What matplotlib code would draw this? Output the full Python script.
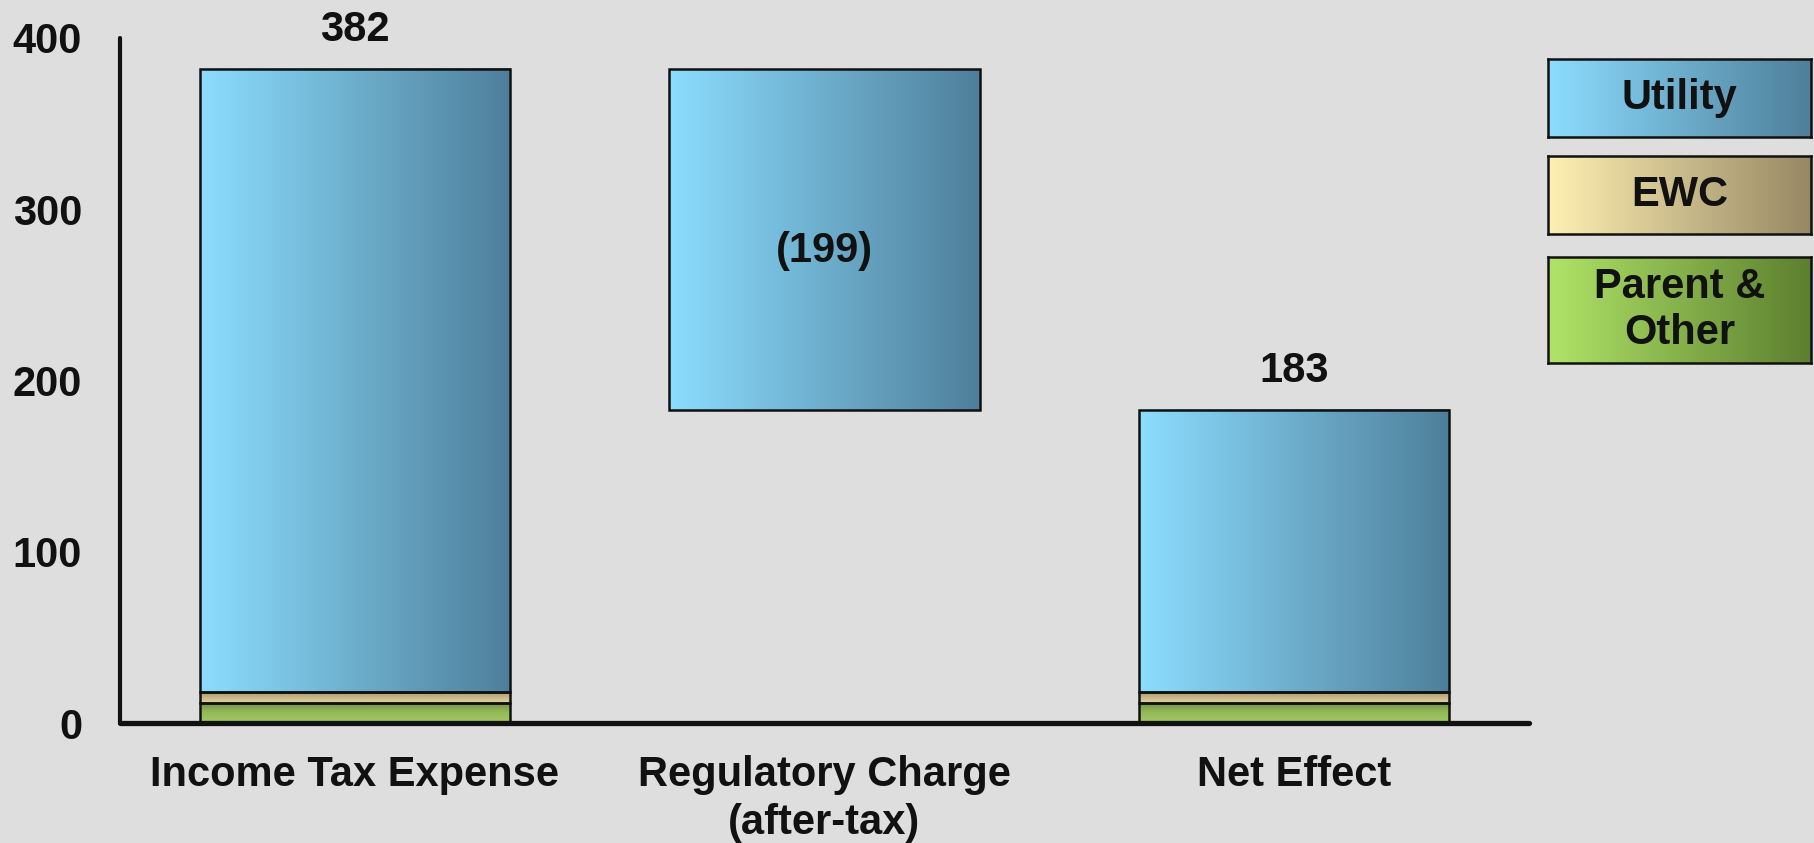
import numpy as np
import matplotlib.pyplot as plt
from matplotlib.colors import LinearSegmentedColormap

plt.rcParams['font.family'] = ['Liberation Sans', 'DejaVu Sans']
plt.rcParams['font.weight'] = 'bold'

categories = ['Income Tax Expense', 'Regulatory Charge\n(after-tax)', 'Net Effect']
parent_other = [12, 0, 12]
ewc = [6, 0, 6]
utility = [364, 199, 165]
bar_bottom = [0, 183, 0]
top_labels = ['382', None, '183']
inside_labels = [None, '(199)', None]

series_names = ['Utility', 'EWC', 'Parent &\nOther']
# horizontal gradients (legend and tall segments)
grad_colors = {
    'Utility': ('#8cddff', '#4e7f9a'),
    'EWC': ('#fff0b2', '#978865'),
    'Parent &\nOther': ('#b0e468', '#5c7f2f'),
}
# thin segments inside the bars are shaded top to bottom
thin_colors = {
    'EWC': ('#e2d3a3', '#c9b887', '#a99a6c'),
    'Parent &\nOther': ('#a2c964', '#95bb5a', '#6f8f42'),
}

bg = '#dedede'
fs = 30
hgrad = np.linspace(0, 1, 256).reshape(1, -1)
vgrad = np.linspace(1, 0, 64).reshape(-1, 1)


def cmap_for(name):
    c0, c1 = grad_colors[name]
    return LinearSegmentedColormap.from_list(name, [c0, c1])


fig = plt.figure(figsize=(18.14, 8.43), dpi=100, facecolor=bg)
ax = fig.add_axes([0.066, 0.142, 0.777, 0.813])
ax.set_facecolor(bg)

x = np.arange(len(categories))
width = 0.66

stack = [('Parent &\nOther', parent_other), ('EWC', ewc), ('Utility', utility)]
for i in range(len(categories)):
    base = bar_bottom[i]
    for name, vals in stack:
        h = vals[i]
        if h <= 0:
            continue
        x0, x1 = x[i] - width / 2, x[i] + width / 2
        if name in thin_colors:
            cm = LinearSegmentedColormap.from_list(name + 'v', thin_colors[name])
            ax.imshow(vgrad, cmap=cm, aspect='auto', vmin=0, vmax=1,
                      extent=[x0, x1, base, base + h], zorder=2, interpolation='bicubic')
        else:
            ax.imshow(hgrad, cmap=cmap_for(name), aspect='auto',
                      extent=[x0, x1, base, base + h], zorder=2, interpolation='bicubic')
        ax.bar(x[i], h, width, bottom=base, facecolor='none',
               edgecolor='#111111', linewidth=1.8, zorder=3)
        base += h
    if top_labels[i]:
        ax.text(x[i], base + 11, top_labels[i], ha='center', va='bottom',
                fontsize=fs, fontweight='bold', color='#111111')
    if inside_labels[i]:
        ax.text(x[i], bar_bottom[i] + utility[i] * 0.465, inside_labels[i],
                ha='center', va='center', fontsize=fs, fontweight='bold', color='#111111')

ax.set_xlim(-0.5, 2.5)
ax.set_ylim(0, 400)
ax.set_yticks([0, 100, 200, 300, 400])
ax.set_xticks(x)
ax.set_xticklabels(categories, fontsize=fs, fontweight='bold', linespacing=1.25)
ax.tick_params(axis='y', length=0, pad=27, labelsize=fs, labelcolor='#111111')
ax.tick_params(axis='x', length=0, pad=23, labelcolor='#111111')
for lbl in ax.get_yticklabels():
    lbl.set_fontweight('bold')

for s in ['top', 'right']:
    ax.spines[s].set_visible(False)
ax.spines['left'].set_linewidth(3)
ax.spines['bottom'].set_linewidth(3.8)
ax.spines['left'].set_color('#111111')
ax.spines['bottom'].set_color('#111111')
ax.spines['left'].set_capstyle('round')
ax.spines['bottom'].set_capstyle('round')
ax.spines['left'].set_bounds(0, 400)

# legend boxes
W, H = 1814, 843
legend_boxes = [(1548, 59, 1811, 137), (1548, 156, 1811, 234), (1548, 257, 1811, 363)]
for name, (l, t, r, b) in zip(series_names, legend_boxes):
    lax = fig.add_axes([l / W, 1 - b / H, (r - l) / W, (b - t) / H])
    lax.imshow(hgrad, cmap=cmap_for(name), aspect='auto', extent=[0, 1, 0, 1])
    lax.set_xticks([])
    lax.set_yticks([])
    for s in lax.spines.values():
        s.set_linewidth(1.8)
        s.set_color('#111111')
    lax.text(0.5, 0.5, name, ha='center', va='center', fontsize=fs,
             fontweight='bold', color='#111111', transform=lax.transAxes,
             linespacing=1.2)

fig.savefig('out.png', dpi=100, facecolor=bg)
